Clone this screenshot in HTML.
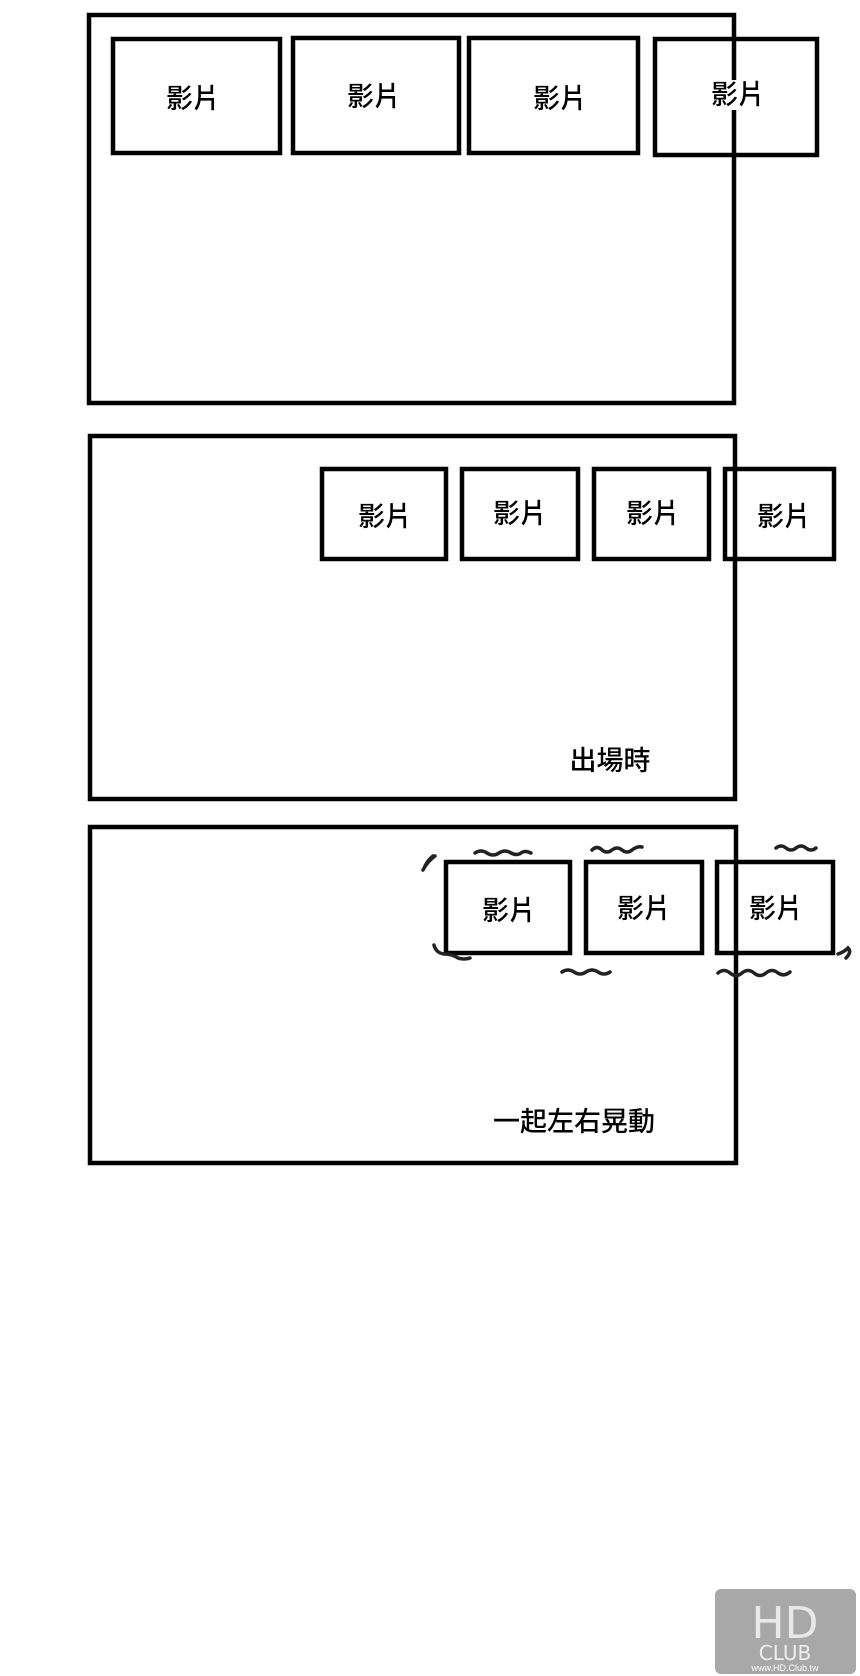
<!DOCTYPE html>
<html><head><meta charset="utf-8"><style>
html,body{margin:0;padding:0;background:#fff;}
svg{display:block}
text{font-family:"Liberation Sans","Noto Sans CJK TC",sans-serif;font-weight:500;fill:#000;}
</style></head><body>
<svg width="860" height="1676" viewBox="0 0 860 1676" xmlns="http://www.w3.org/2000/svg">
<g fill="none" stroke="#000" stroke-width="4.5">
<rect x="89" y="15" width="645" height="388"/>
<rect x="113" y="39" width="167" height="114"/>
<rect x="293" y="38" width="166" height="115"/>
<rect x="469" y="38" width="169" height="115"/>
<rect x="655" y="39" width="162" height="116"/>
<rect x="90" y="436" width="645" height="363"/>
<rect x="322" y="469" width="124" height="90"/>
<rect x="462" y="469" width="116" height="90"/>
<rect x="594" y="469" width="115" height="90"/>
<rect x="725" y="469" width="109" height="90"/>
<rect x="90" y="827" width="646" height="336"/>
<rect x="446" y="862" width="124" height="91"/>
<rect x="586" y="862" width="116" height="91"/>
<rect x="717" y="862" width="116" height="91"/>
</g>
<rect x="728" y="80" width="16" height="30" fill="#fff"/>
<g stroke="#222" stroke-width="3.5" fill="none" stroke-linecap="round">
<path d="M475 853 q6 -4 12 0 q6 4 12 0 q6 -4 12 0 q6 3 10 0 q4 -3 10 0"/>
<path d="M423 870 q4 -8 12 -14 M425 866 q3 -6 8 -10"/>
<path d="M592 850 q5 -5 10 0 q5 4 10 0 q5 -4 10 0 q5 4 10 0 q5 -4 10 -3"/>
<path d="M776 848 q5 -4 10 0 q5 4 10 0 q5 -4 10 0 q5 4 10 0"/>
<path d="M434 945 q2 8 10 9 q8 0 14 4 q6 2 12 0"/>
<path d="M562 972 q6 -4 12 0 q6 4 12 0 q6 -4 12 0 q6 4 12 0"/>
<path d="M718 973 q6 -5 12 0 q6 5 12 0 q6 -5 12 0 q6 5 12 0 q6 -5 12 0 q6 4 12 -1"/>
<path d="M838 954 q6 -2 10 -6 q4 4 -2 10"/>
</g>
<g font-size="27" text-anchor="middle">
<text x="193" y="108">影片</text>
<text x="374" y="106">影片</text>
<text x="560" y="108">影片</text>
<text x="738" y="104">影片</text>
<text x="385" y="526">影片</text>
<text x="520" y="523">影片</text>
<text x="653" y="523">影片</text>
<text x="784" y="526">影片</text>
<text x="509" y="920">影片</text>
<text x="644" y="918">影片</text>
<text x="776" y="918">影片</text>
<text x="610" y="770">出場時</text>
<text x="574" y="1131">一起左右晃動</text>
</g>
<rect x="715" y="1589" width="141" height="85" rx="6" fill="#a8a8a8"/>
<text x="785" y="1638" font-size="44" text-anchor="middle" style="fill:#e8e8e8;font-family:'DejaVu Sans',sans-serif">HD</text>
<text x="785" y="1660" font-size="20" text-anchor="middle" style="fill:#eee;font-family:'DejaVu Sans',sans-serif">CLUB</text>
<text x="785" y="1671" font-size="9" text-anchor="middle" style="fill:#fff">www.HD.Club.tw</text>
</svg>
</body></html>
